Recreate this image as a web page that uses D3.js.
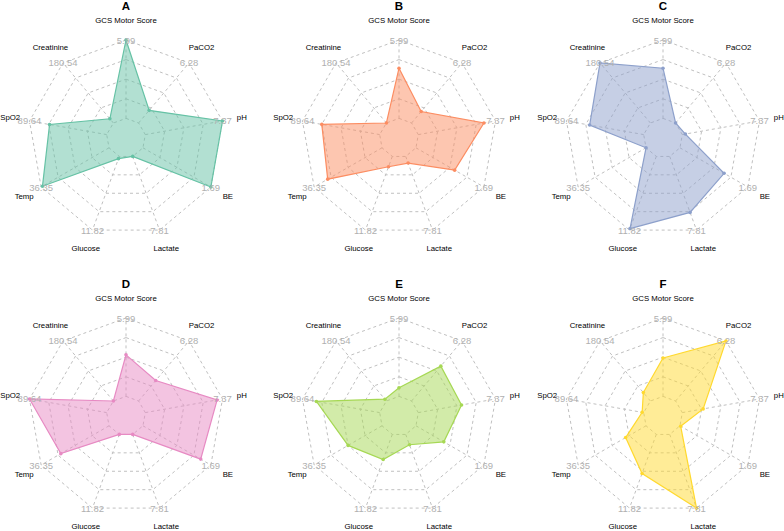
<!DOCTYPE html>
<html><head><meta charset="utf-8">
<script src="https://cdn.jsdelivr.net/npm/d3@7"></script>
<style>body{margin:0;background:#fff}svg{display:block}</style>
</head><body>
<script>
// axes in clockwise order starting at the top
const axes = ["GCS Motor Score","PaCO2","pH","BE","Lactate","Glucose","Temp","SpO2","Creatinine"];
// maximum value shown at the end of each axis
const maxLabels = ["5.99","6.28","7.37","1.69","7.81","11.82","36.35","89.64","180.54"];
const panels = ["A","B","C","D","E","F"];
const colors = ["#66C2A5","#FC8D62","#8DA0CB","#E78AC3","#A6D854","#FFD92F"];
// values scaled 0 (axis min) .. 1 (axis max), order as in `axes`
const seriesA = [1.00,0.21,1.00,1.00,0.00,0.03,0.98,0.74,0.07];
const seriesB = [0.64,0.19,0.85,0.57,0.09,0.14,0.80,0.75,0.00];
const seriesC = [0.64,0.00,0.04,0.65,0.76,0.98,0.00,0.70,1.00];
const seriesD = [0.53,0.34,0.93,0.85,0.00,0.00,0.71,1.00,0.00];
const seriesE = [0.11,0.58,0.56,0.41,0.14,0.34,0.50,0.82,0.03];
const seriesF = [0.49,1.00,0.27,0.01,1.00,0.53,0.30,0.02,0.14];
const series = [seriesA,seriesB,seriesC,seriesD,seriesE,seriesF];
const segs = 4;

const W = 784, H = 531, R = 98;
const svg = d3.select("body").append("svg").attr("width",W).attr("height",H);
const colX = d3.scaleOrdinal().domain([0,1,2]).range([126,399,663]);
const rowY = d3.scaleOrdinal().domain([0,1]).range([138,416]);
// radius scale: min sits on the inner ring (fmsb-style center gap)
const rScale = d3.scaleLinear().domain([0,1]).range([R/(segs+1), R]);
const angle = d3.scaleLinear().domain([0, axes.length]).range([0, 2*Math.PI]);
const px = (a,r)=> r*Math.sin(a);
const py = (a,r)=> -r*Math.cos(a);
const font = "'Liberation Sans', Arial, Helvetica, sans-serif";

panels.forEach((name,i)=>{
  const g = svg.append("g")
    .attr("transform",`translate(${colX(i%3)},${rowY(Math.floor(i/3))})`);
  // grid rings
  const rings = d3.range(1, segs+2).map(k=> R*k/(segs+1));
  rings.forEach(r=>{
    g.append("polygon")
      .attr("points", axes.map((_,j)=>[px(angle(j),r),py(angle(j),r)].join(",")).join(" "))
      .attr("fill","none").attr("stroke","#c0c0c0").attr("stroke-width",1)
      .attr("stroke-dasharray","3,3");
  });
  // radial lines
  axes.forEach((_,j)=>{
    const a = angle(j);
    g.append("line")
      .attr("x1",px(a,R/(segs+1))).attr("y1",py(a,R/(segs+1)))
      .attr("x2",px(a,R)).attr("y2",py(a,R))
      .attr("stroke","#c0c0c0").attr("stroke-width",1).attr("stroke-dasharray","3,3");
  });
  // data polygon
  const vals = series[i];
  const pts = vals.map((v,j)=>[px(angle(j),rScale(v)),py(angle(j),rScale(v))]);
  g.append("polygon")
    .attr("points", pts.map(p=>p.join(",")).join(" "))
    .attr("fill",colors[i]).attr("fill-opacity",0.5)
    .attr("stroke",colors[i]).attr("stroke-width",1.2);
  g.selectAll("circle.pt").data(pts).enter().append("circle")
    .attr("cx",d=>d[0]).attr("cy",d=>d[1]).attr("r",1.8)
    .attr("fill",colors[i]);
  // max labels
  axes.forEach((_,j)=>{
    const a = angle(j);
    g.append("text").attr("x",px(a,R)).attr("y",py(a,R))
      .attr("text-anchor","middle").attr("dominant-baseline","central")
      .attr("font-family",font).attr("font-size",9.5).attr("fill","#b0b0b0")
      .text(maxLabels[j]);
  });
  // axis labels
  axes.forEach((lab,j)=>{
    const a = angle(j);
    g.append("text").attr("x",px(a,R*1.2)).attr("y",py(a,R*1.2))
      .attr("text-anchor","middle").attr("dominant-baseline","central")
      .attr("font-family",font).attr("font-size",7.8).attr("fill","#000")
      .text(lab);
  });
  // title
  g.append("text").attr("x",0).attr("y",-128.5)
    .attr("text-anchor","middle")
    .attr("font-family",font).attr("font-size",11.5).attr("font-weight","bold")
    .text(name);
});
</script>
</body></html>
